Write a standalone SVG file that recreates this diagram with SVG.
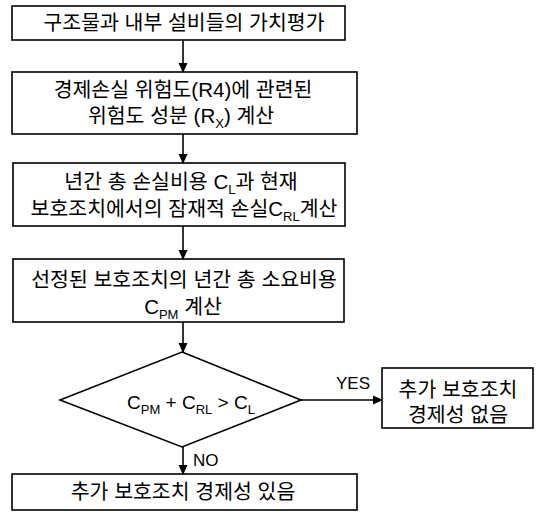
<svg xmlns="http://www.w3.org/2000/svg" width="538" height="512" viewBox="0 0 538 512">
<defs>
<marker id="ah" markerWidth="10" markerHeight="10" refX="9" refY="5" orient="auto" markerUnits="userSpaceOnUse">
<path d="M0,0.5 L10,5 L0,9.5 Z" fill="#000"/>
</marker>
<style>
g rect, g polygon { fill: #fff; stroke: #000; stroke-width: 1.6; }
.t { font-family: "Liberation Sans", "Noto Sans CJK KR", sans-serif; font-size: 20.5px; fill: #000; text-anchor: middle; }
.l { font-family: "Liberation Sans", "Noto Sans CJK KR", sans-serif; font-size: 17px; fill: #000; }
.s { font-size: 13px; }
.c line { stroke: #000; stroke-width: 1.6; marker-end: url(#ah); }
</style>
</defs>
<rect width="538" height="512" fill="#fff"/>
<g id="n1">
<rect x="12" y="6" width="333" height="34"/>
<text class="t" x="184" y="30">구조물과 내부 설비들의 가치평가</text>
</g>
<g id="n2">
<rect x="12" y="72" width="345" height="62"/>
<text class="t" x="183" y="97">경제손실 위험도(R4)에 관련된</text>
<text class="t" x="181" y="123">위험도 성분 (R<tspan class="s" dy="5">X</tspan><tspan dy="-5">) 계산</tspan></text>
</g>
<g id="n3">
<rect x="13" y="163" width="332" height="63"/>
<text class="t" x="181" y="189">년간 총 손실비용 C<tspan class="s" dy="5">L</tspan><tspan dy="-5">과 현재</tspan></text>
<text class="t" x="184" y="216">보호조치에서의 잠재적 손실C<tspan class="s" dy="5">RL</tspan><tspan dy="-5">계산</tspan></text>
</g>
<g id="n4">
<rect x="13" y="259" width="331" height="63"/>
<text class="t" x="184" y="287">선정된 보호조치의 년간 총 소요비용</text>
<text class="t" x="183" y="314">C<tspan class="s" dy="5">PM</tspan><tspan dy="-5"> 계산</tspan></text>
</g>
<g id="d1">
<polygon points="182,352 301,400 182,447 60,400"/>
<text class="t" x="191" y="409" style="font-size:19px">C<tspan class="s" dy="5">PM</tspan><tspan dy="-5"> + C</tspan><tspan class="s" dy="5">RL</tspan><tspan dy="-5"> &gt; C</tspan><tspan class="s" dy="5">L</tspan></text>
</g>
<g id="n5">
<rect x="382" y="368" width="151" height="60"/>
<text class="t" x="458" y="397">추가 보호조치</text>
<text class="t" x="458" y="422">경제성 없음</text>
</g>
<g id="n6">
<rect x="12" y="474" width="345" height="36"/>
<text class="t" x="183" y="499">추가 보호조치 경제성 있음</text>
</g>
<g class="c" id="connectors">
<line x1="183" y1="40" x2="183" y2="72"/>
<line x1="183" y1="134" x2="183" y2="163"/>
<line x1="183" y1="226" x2="183" y2="259"/>
<line x1="183" y1="322" x2="183" y2="352"/>
<line x1="183" y1="447" x2="183" y2="474"/>
<line x1="301" y1="400" x2="382" y2="400"/>
<text class="l" x="336" y="389">YES</text>
<text class="l" x="193" y="466">NO</text>
</g>
</svg>
